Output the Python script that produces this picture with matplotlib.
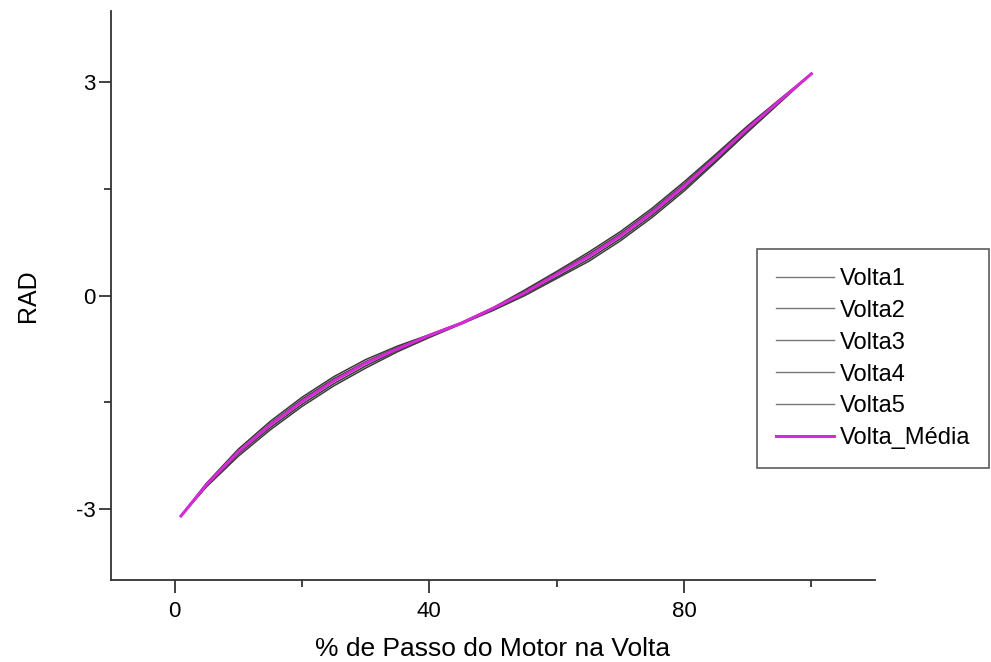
import numpy as np
import matplotlib
matplotlib.use('Agg')
import matplotlib.pyplot as plt

plt.rcParams['font.family'] = ['Liberation Sans', 'DejaVu Sans']
plt.rcParams['axes.unicode_minus'] = False

# ============================================
# DATA
# ============================================
passo = [1, 5, 10, 15, 20, 25, 30, 35, 40, 45, 50,
         55, 60, 65, 70, 75, 80, 85, 90, 95, 100]

volta1 = [-3.10, -2.64, -2.16, -1.77, -1.43, -1.14, -0.90, -0.71, -0.55, -0.38, -0.17,
          0.08, 0.34, 0.61, 0.90, 1.23, 1.60, 1.99, 2.39, 2.76, 3.12]
volta2 = [-3.10, -2.65, -2.19, -1.80, -1.46, -1.17, -0.93, -0.73, -0.56, -0.39, -0.18,
          0.06, 0.32, 0.58, 0.87, 1.20, 1.57, 1.97, 2.37, 2.75, 3.12]
volta3 = [-3.10, -2.66, -2.21, -1.82, -1.49, -1.20, -0.95, -0.75, -0.56, -0.39, -0.18,
          0.04, 0.30, 0.55, 0.84, 1.17, 1.54, 1.94, 2.34, 2.74, 3.12]
volta4 = [-3.10, -2.68, -2.23, -1.86, -1.53, -1.24, -0.99, -0.77, -0.58, -0.39, -0.20,
          0.02, 0.26, 0.51, 0.80, 1.13, 1.50, 1.90, 2.32, 2.72, 3.12]
volta5 = [-3.10, -2.69, -2.26, -1.89, -1.56, -1.27, -1.02, -0.79, -0.59, -0.40, -0.21,
          0.00, 0.24, 0.48, 0.77, 1.10, 1.47, 1.88, 2.30, 2.71, 3.12]

volta_media = [-3.10, -2.66, -2.20, -1.82, -1.49, -1.20, -0.95, -0.75, -0.56, -0.39, -0.18,
               0.04, 0.30, 0.55, 0.84, 1.17, 1.54, 1.94, 2.35, 2.74, 3.12]

voltas = {'Volta1': volta1, 'Volta2': volta2, 'Volta3': volta3,
          'Volta4': volta4, 'Volta5': volta5}

x_ticks = [0, 40, 80]
y_ticks = [-3, 0, 3]

# ============================================
# PLOT
# ============================================
fig = plt.figure(figsize=(9.91, 6.62), dpi=100)
ax = fig.add_axes([0.112, 0.124, 0.771, 0.859])

for name, vals in voltas.items():
    ax.plot(passo, vals, color='#3a3a3a', lw=1.1, label=name)
ax.plot(passo, volta_media, color='#d62ad6', lw=2.2, label='Volta_Média')

ax.set_xlim(-10, 110)
ax.set_ylim(-4, 4)
ax.set_xticks(x_ticks)
ax.set_xticks([20, 60, 100], minor=True)
ax.set_yticks(y_ticks)
ax.set_yticks([-1.5, 1.5], minor=True)

for s in ['top', 'right']:
    ax.spines[s].set_visible(False)
for s in ['left', 'bottom']:
    ax.spines[s].set_linewidth(1.3)
    ax.spines[s].set_color('#333333')

ax.tick_params(which='major', direction='out', length=9, width=1.3, color='#333333',
               labelsize=16)
ax.tick_params(axis='x', which='major', pad=6)
ax.tick_params(axis='y', which='major', pad=2)
ax.tick_params(which='minor', direction='out', length=5, width=1.3, color='#333333')

ax.set_xlabel('% de Passo do Motor na Volta', fontsize=19, labelpad=11)
ax.set_ylabel('RAD', fontsize=18, labelpad=26)

leg = ax.legend(loc='upper left', bbox_to_anchor=(0.764, 0.624),
                bbox_transform=fig.transFigure, fontsize=17,
                frameon=True, fancybox=False, handlelength=2.45,
                handletextpad=0.25, labelspacing=0.42, borderpad=0.8,
                borderaxespad=0)
leg.get_frame().set_edgecolor('#333333')
leg.get_frame().set_linewidth(1.2)
for line in leg.get_lines()[:5]:
    line.set_linewidth(1.0)
    line.set_color('#777777')

plt.savefig('out.png', dpi=100)
